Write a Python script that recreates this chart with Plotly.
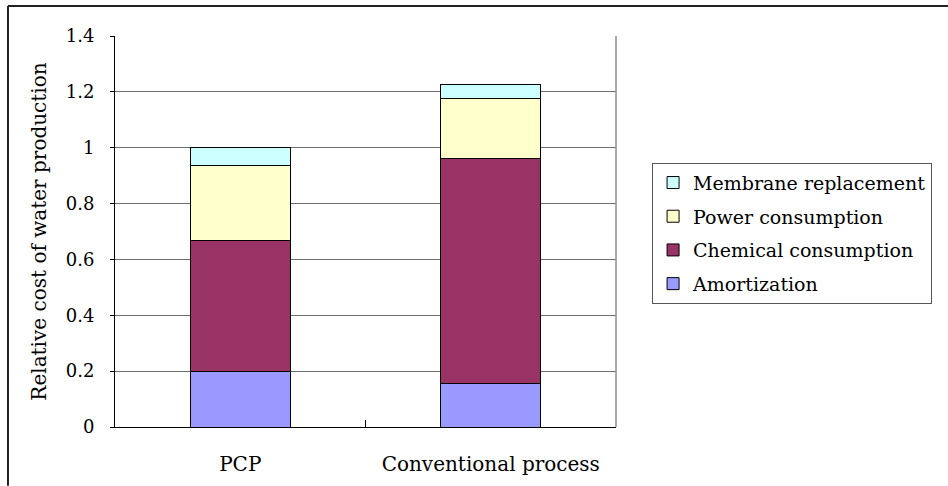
import plotly.graph_objects as go

# Relative cost of water production, broken down by cost component
categories = ["PCP", "Conventional process"]
amortization = [0.200, 0.155]
chemical = [0.467, 0.808]
power = [0.271, 0.215]
membrane = [0.062, 0.050]

# stacked bottom to top; legend lists them top to bottom
series = [
    ("Amortization", amortization, "#9999FF"),
    ("Chemical consumption", chemical, "#993366"),
    ("Power consumption", power, "#FFFFCC"),
    ("Membrane replacement", membrane, "#CCFFFF"),
]

FONT = "DejaVu Serif, Liberation Serif, serif"

fig = go.Figure()
for i, (name, vals, color) in enumerate(series):
    fig.add_trace(go.Bar(
        x=categories, y=vals, name=name, legendgroup=name,
        legendrank=1000 - i,
        marker=dict(color=color, line=dict(color="#000000", width=1)),
        width=0.4,
    ))

fig.update_layout(
    width=948, height=486,
    barmode="stack",
    plot_bgcolor="white", paper_bgcolor="white",
    margin=dict(l=115, r=332, t=36, b=59, autoexpand=False),
    font=dict(family=FONT, size=18, color="#000000"),
    showlegend=True,
    legend=dict(
        x=1.072, y=0.676, xanchor="left", yanchor="top",
        traceorder="grouped", tracegroupgap=6,
        bordercolor="#555555", borderwidth=1,
        itemwidth=30,
        font=dict(family=FONT, size=19),
    ),
    xaxis=dict(
        automargin=False,
        showline=True, linecolor="#000000", linewidth=1, mirror=False,
        ticks="inside", tickson="boundaries", ticklen=7, tickcolor="#000000",
        ticklabelstandoff=19, showgrid=False,
        tickfont=dict(family=FONT, size=20),
    ),
    yaxis=dict(
        automargin=False,
        range=[0, 1.4], dtick=0.2, tickformat="~g",
        showline=True, linecolor="#000000", linewidth=1,
        ticks="outside", ticklen=4, tickcolor="#000000",
        ticklabelstandoff=12,
        showgrid=True, gridcolor="#6e6e6e", gridwidth=1,
        zeroline=False,
        title=dict(text="Relative cost of water production", standoff=13,
                   font=dict(family=FONT, size=20)),
    ),
    shapes=[
        # right edge of the plot area
        dict(type="line", xref="paper", yref="paper", x0=1, x1=1, y0=0, y1=1,
             line=dict(color="#8c8c8c", width=1.5)),
        # chart frame (left and top edges)
        dict(type="line", xref="paper", yref="paper", x0=-0.2136, x1=-0.2136,
             y0=-0.15, y1=1.077, line=dict(color="#222222", width=2)),
        dict(type="line", xref="paper", yref="paper", x0=-0.2136, x1=1.7,
             y0=1.077, y1=1.077, line=dict(color="#222222", width=2)),
    ],
)

fig.write_html("out.html")
